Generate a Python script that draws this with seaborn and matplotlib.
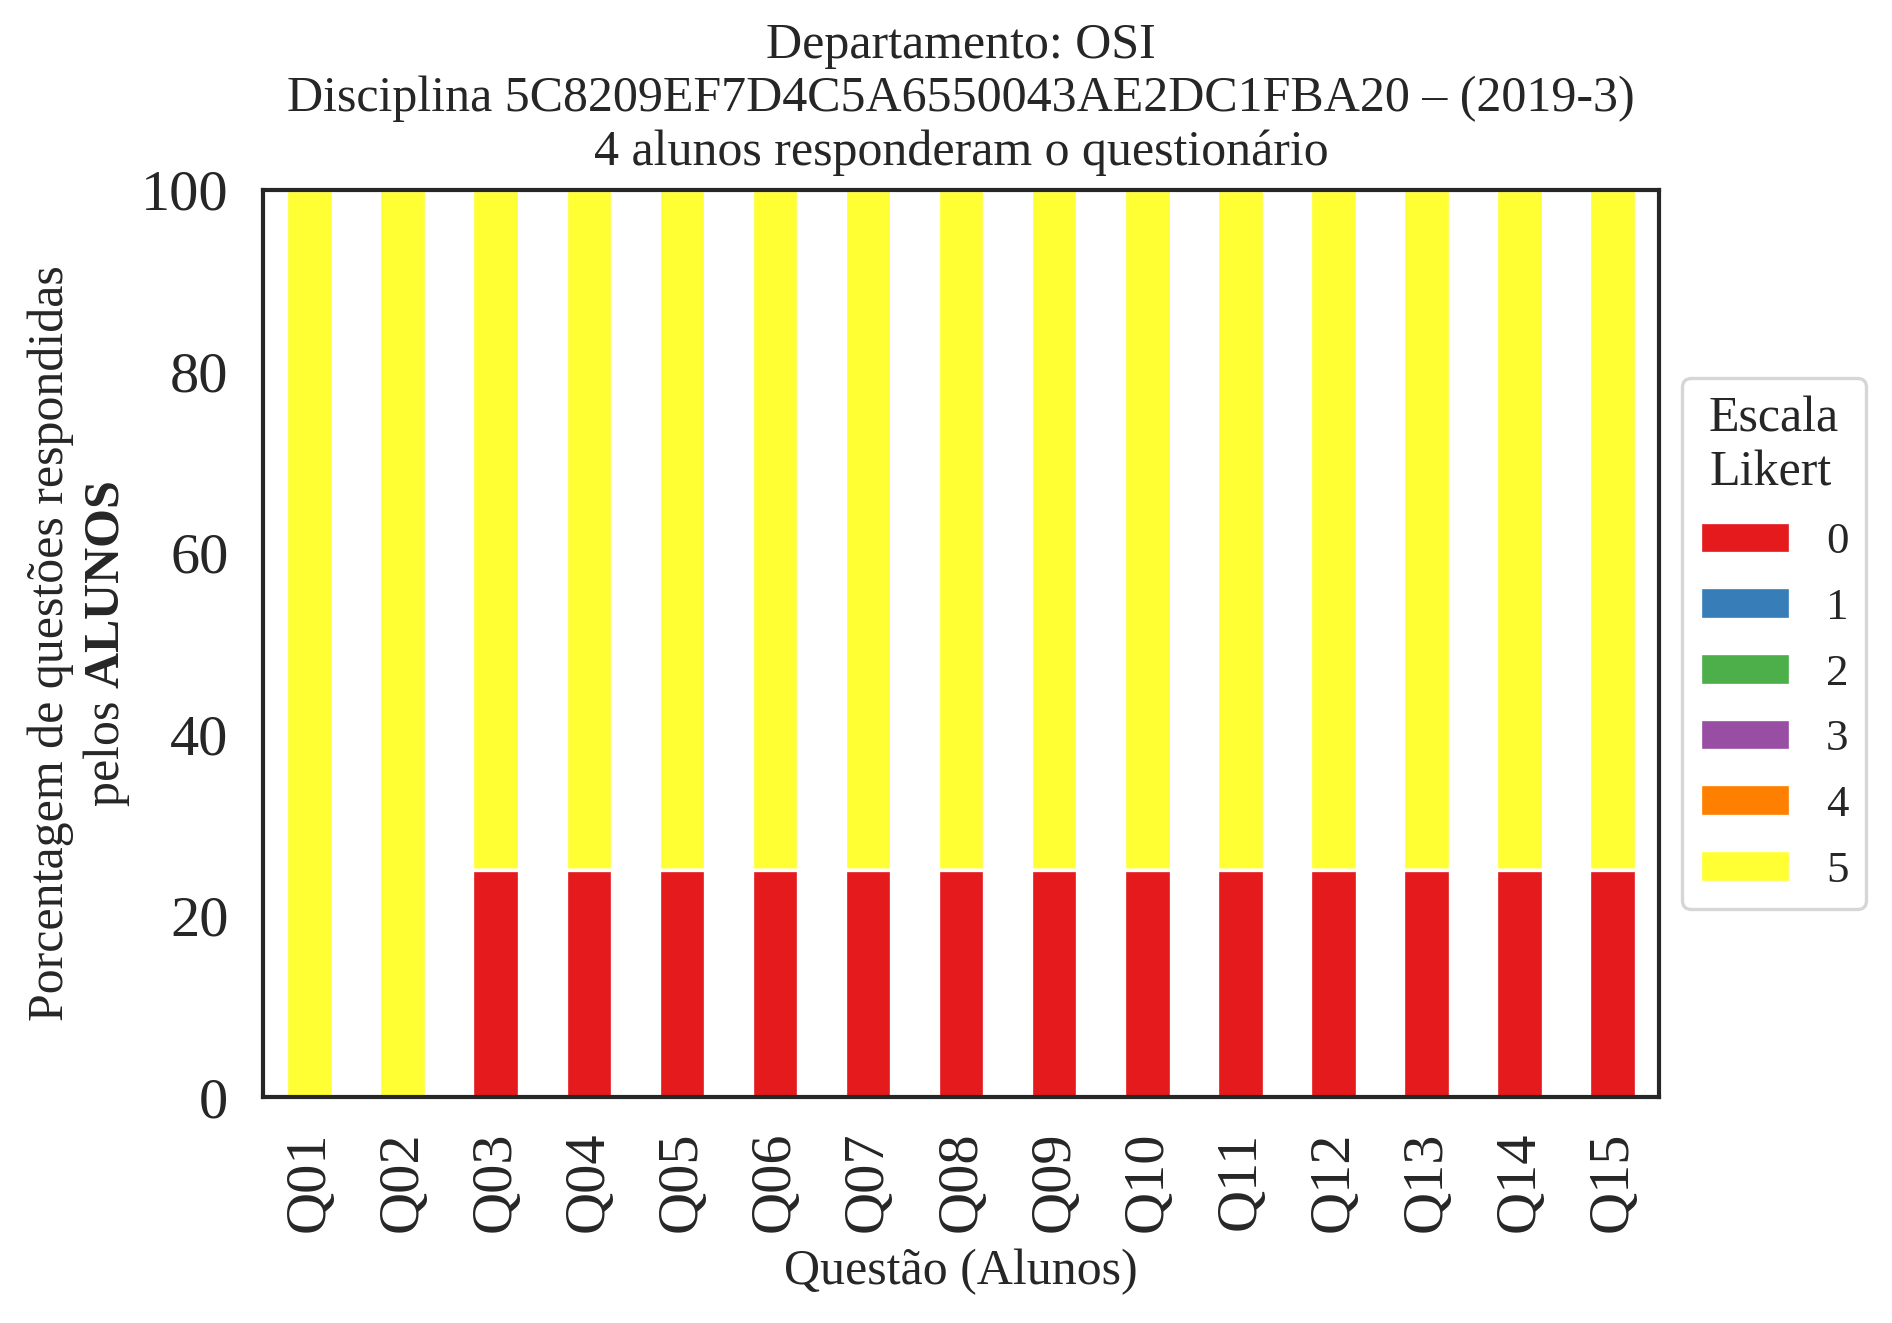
import seaborn as sns
import pandas as pd
import matplotlib.pyplot as plt

# respostas por questao (percentual de alunos em cada nivel da escala)
questoes = ['Q%02d' % i for i in range(1, 16)]
niveis = ['0', '1', '2', '3', '4', '5']
pct_0 = [0, 0, 25, 25, 25, 25, 25, 25, 25, 25, 25, 25, 25, 25, 25]
pct_1 = [0] * 15
pct_2 = [0] * 15
pct_3 = [0] * 15
pct_4 = [0] * 15
pct_5 = [100, 100, 75, 75, 75, 75, 75, 75, 75, 75, 75, 75, 75, 75, 75]

sns.set_theme(context='paper', style='white')
plt.rcParams['font.family'] = ['Liberation Serif', 'DejaVu Serif']
plt.rcParams['mathtext.fontset'] = 'custom'
plt.rcParams['mathtext.rm'] = 'Liberation Serif'
plt.rcParams['mathtext.bf'] = 'Liberation Serif:bold'

# empilhamento: valor acumulado de cada nivel
series = [pct_0, pct_1, pct_2, pct_3, pct_4, pct_5]
linhas = []
for i, q in enumerate(questoes):
    acum = 0
    for n, s in zip(niveis, series):
        acum += s[i]
        linhas.append({'Questao': q, 'Escala': n, 'acum': acum})
df = pd.DataFrame(linhas)

cores = dict(zip(niveis, sns.color_palette('Set1', 6)))

fig = plt.figure(figsize=(1892 / 300, 1323 / 300), dpi=300)
ax = fig.add_axes([0.139, 0.1708, 0.738, 0.6856])

sns.barplot(data=df, x='Questao', y='acum', hue='Escala', hue_order=niveis[::-1],
            palette=cores, dodge=False, width=0.5, edgecolor='white',
            linewidth=0.8, saturation=1, ax=ax)

ax.set_xlim(-0.5, len(questoes) - 0.5)
ax.set_ylim(0, 100)
ax.set_yticks([0, 20, 40, 60, 80, 100])
ax.tick_params(axis='both', labelsize=14)
plt.setp(ax.get_xticklabels(), rotation=90)
ax.set_xlabel('Questão (Alunos)', fontsize=12)
ax.set_ylabel('Porcentagem de questões respondidas\npelos $\\bf{ALUNOS}$', fontsize=12,
              labelpad=2)
ax.set_title('Departamento: OSI\nDisciplina 5C8209EF7D4C5A6550043AE2DC1FBA20 – (2019-3)\n'
             '4 alunos responderam o questionário', fontsize=12)

handles, labels = ax.get_legend_handles_labels()
ax.legend(handles[::-1], labels[::-1], title='Escala\nLikert',
          loc='center left', bbox_to_anchor=(1.0, 0.5),
          fontsize=10.8, title_fontsize=12, labelspacing=0.56)

fig.savefig('out.png', dpi=300)
